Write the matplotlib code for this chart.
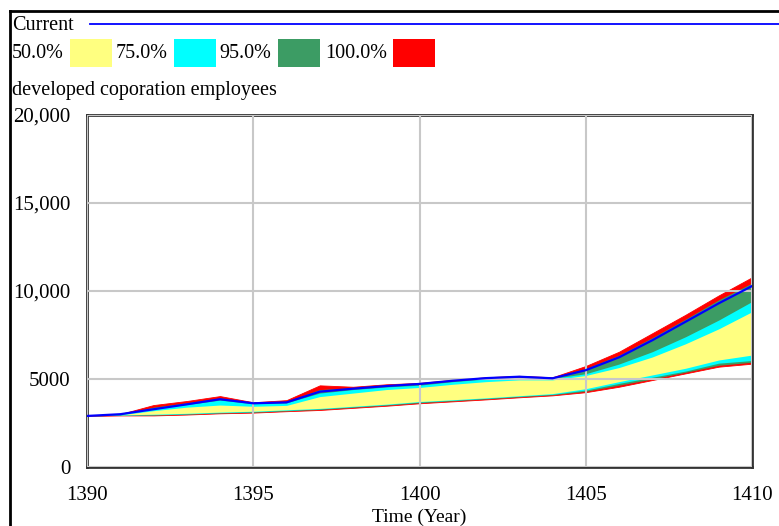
import matplotlib
matplotlib.use('Agg')
import matplotlib.pyplot as plt
from matplotlib.lines import Line2D
from matplotlib.patches import Rectangle

plt.rcParams['font.family'] = ['Liberation Serif', 'DejaVu Serif']

# data
years = list(range(1390, 1411))
current = [2900, 3000, 3280, 3560, 3850, 3620, 3670, 4280, 4450, 4600, 4720,
           4900, 5050, 5130, 5040, 5500, 6230, 7200, 8250, 9300, 10280]
hi100 = [2900, 3010, 3520, 3750, 4030, 3680, 3800, 4640, 4560, 4700, 4780,
         4950, 5100, 5180, 5100, 5740, 6550, 7600, 8650, 9750, 10780]
hi95 = [2900, 3000, 3400, 3650, 3920, 3650, 3720, 4400, 4500, 4650, 4720,
        4900, 5050, 5120, 5060, 5600, 6350, 7350, 8400, 9500, 10450]
hi75 = [2900, 2980, 3330, 3550, 3800, 3600, 3650, 4200, 4400, 4550, 4650,
        4850, 5000, 5080, 5030, 5300, 5850, 6550, 7400, 8350, 9400]
hi50 = [2900, 2960, 3200, 3400, 3520, 3450, 3500, 4000, 4200, 4400, 4520,
        4700, 4850, 4950, 4950, 5200, 5650, 6250, 7000, 7850, 8820]
lo50 = [2900, 2960, 3000, 3050, 3120, 3170, 3250, 3330, 3450, 3570, 3720,
        3820, 3930, 4050, 4170, 4450, 4850, 5230, 5610, 6080, 6360]
lo75 = [2900, 2950, 2970, 3020, 3090, 3140, 3220, 3300, 3420, 3540, 3690,
        3790, 3900, 4020, 4130, 4370, 4750, 5100, 5450, 5900, 6050]
lo95 = [2900, 2940, 2950, 3000, 3070, 3110, 3190, 3270, 3390, 3510, 3650,
        3760, 3870, 3990, 4100, 4300, 4650, 5000, 5380, 5780, 5950]
lo100 = [2900, 2930, 2930, 2980, 3050, 3090, 3170, 3240, 3360, 3480, 3620,
         3730, 3840, 3960, 4070, 4250, 4560, 4940, 5320, 5700, 5870]

band_labels = ['50.0%', '75.0%', '95.0%', '100.0%']
band_colors = ['#ffff80', '#00ffff', '#3c9c64', '#ff0000']
yticks = [0, 5000, 10000, 15000, 20000]
ytick_labels = ['0', '5000', '10,000', '15,000', '20,000']
xticks = [1390, 1395, 1400, 1405, 1410]

W, H = 779, 526
fig = plt.figure(figsize=(W / 100, H / 100), dpi=100)
ax = fig.add_axes([87 / W, 1 - 467 / H, (752 - 87) / W, (467 - 115) / H])

# bands, widest first
ax.fill_between(years, lo100, hi100, color=band_colors[3], lw=0.6, zorder=1)
ax.fill_between(years, lo95, hi95, color=band_colors[2], lw=0, zorder=1.1)
ax.fill_between(years, lo75, hi75, color=band_colors[1], lw=0, zorder=1.2)
ax.fill_between(years, lo50, hi50, color=band_colors[0], lw=0, zorder=1.3)
ax.plot(years, current, color='#0000ff', lw=1.6, zorder=3)

ax.set_xlim(1390, 1410)
ax.set_ylim(0, 20000)
ax.set_xticks(xticks)
ax.set_xticklabels([str(x) for x in xticks], fontsize=15)
ax.set_yticks(yticks)
ax.set_yticklabels(ytick_labels, fontsize=15)
ax.tick_params(length=0)
ax.tick_params(axis='y', pad=12)
ax.tick_params(axis='x', pad=14)
ax.grid(True, color='#c8c8c8', lw=1.5)
ax.set_axisbelow(False)
for s in ax.spines.values():
    s.set_color('#333333')
    s.set_linewidth(2)
ax.set_xlabel('Time (Year)', fontsize=14, labelpad=2)

# outer frame
fig.add_artist(Line2D([10 / W, 1], [1 - 11 / H, 1 - 11 / H], transform=fig.transFigure,
                      color='black', lw=2))
fig.add_artist(Line2D([10 / W, 10 / W], [0, 1 - 11 / H], transform=fig.transFigure,
                      color='black', lw=2))

# legend header
fig.text(12 / W, 1 - 26 / H, 'Current', fontsize=14.5, va='center', ha='left')
fig.add_artist(Line2D([90 / W, 1], [1 - 24 / H, 1 - 24 / H], transform=fig.transFigure,
                      color='#0000ff', lw=1.3))
text_x = [12, 116, 219, 325]
box_x = [70, 174, 278, 393]
for lab, col, tx, bx in zip(band_labels, band_colors, text_x, box_x):
    fig.text(tx / W, 1 - 53 / H, lab, fontsize=14.5, va='center', ha='left')
    fig.add_artist(Rectangle((bx / W, 1 - 67 / H), 42 / W, 28 / H,
                             transform=fig.transFigure, color=col, lw=0))
fig.text(12 / W, 1 - 90 / H, 'developed coporation employees', fontsize=14.5,
         va='center', ha='left')

fig.savefig('out.png', dpi=100)
